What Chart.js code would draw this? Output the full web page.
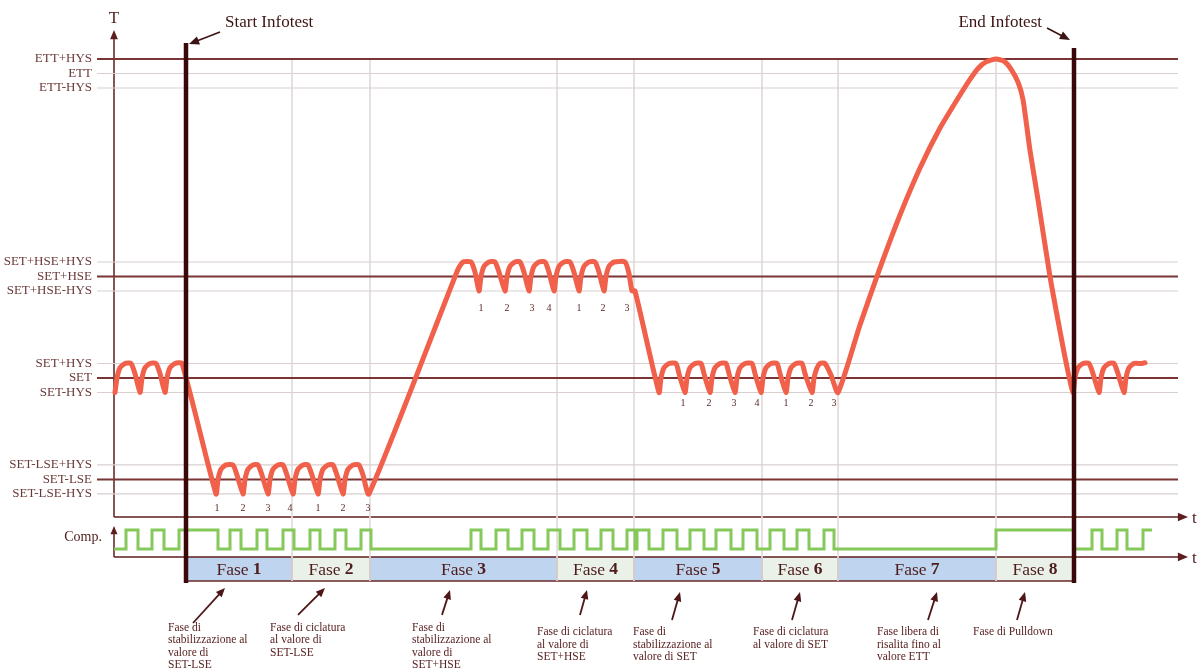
<!DOCTYPE html>
<html>
<head>
<meta charset="utf-8">
<script src="https://cdn.jsdelivr.net/npm/chart.js@4.4.0/dist/chart.umd.min.js"></script>
<style>
  html, body { margin: 0; padding: 0; background: #fff; }
  #wrap { width: 1201px; height: 671px; }
</style>
</head>
<body>
<div id="wrap"><canvas id="infotest-chart"></canvas></div>
<script>
// Temperature levels (T units, 1 unit = HYS)
const levelLabels = ['ETT+HYS', 'ETT', 'ETT-HYS', 'SET+HSE+HYS', 'SET+HSE', 'SET+HSE-HYS',
                     'SET+HYS', 'SET', 'SET-HYS', 'SET-LSE+HYS', 'SET-LSE', 'SET-LSE-HYS'];
const levelValues = [22, 21, 20, 8, 7, 6, 1, 0, -1, -6, -7, -8];
const mainLevels = ['ETT+HYS', 'SET+HSE', 'SET', 'SET-LSE'];

// Phases (time)
const phaseBounds = [71, 177, 255, 442, 519, 647, 723, 881, 959];
const phaseNumbers = ['1', '2', '3', '4', '5', '6', '7', '8'];
const phaseNotes = [
  ['Fase di', 'stabilizzazione al', 'valore di', 'SET-LSE'],
  ['Fase di ciclatura', 'al valore di', 'SET-LSE'],
  ['Fase di', 'stabilizzazione al', 'valore di', 'SET+HSE'],
  ['Fase di ciclatura', 'al valore di', 'SET+HSE'],
  ['Fase di', 'stabilizzazione al', 'valore di SET'],
  ['Fase di ciclatura', 'al valore di SET'],
  ['Fase libera di', 'risalita fino al', 'valore ETT'],
  ['Fase di Pulldown']
];

// cycle counters under the minima
const countLabels = ['1', '2', '3', '4', '1', '2', '3'];
const countTimesLow = [102, 128, 153, 175, 203, 228, 253];
const countTimesHigh = [366, 392, 417, 434, 464, 488, 512];
const countTimesSet = [568, 594, 619, 642, 671, 696, 719];

// temperature curve [time, T]
const tempCurve = [
  [0,-1],[2,0],[5,0.7],[10,1],[16,1],[20,0.3],[25,-1],
  [27,0],[30,0.7],[35,1],[41,1],[45,0.3],[50,-1],
  [52,0],[55,0.7],[60,1],[67,1],
  [101,-8],
  [103,-7],[106,-6.3],[111,-6],[118,-6],[122,-6.7],[128,-8],
  [130,-7],[133,-6.3],[138,-6],[143,-6],[147,-6.7],[153,-8],
  [155,-7],[158,-6.3],[163,-6],[168,-6],[172,-6.7],[178,-8],
  [180,-7],[183,-6.3],[188,-6],[193,-6],[197,-6.7],[203,-8],
  [205,-7],[208,-6.3],[213,-6],[218,-6],[222,-6.7],[228,-8],
  [230,-7],[233,-6.3],[238,-6],[244,-6],[248,-6.7],[254,-8],
  [343,7.5],[348,8],[356,8],[360,7.3],[364,6],
  [366,7],[369,7.7],[374,8],[380,8],[384,7.3],[390,6],
  [392,7],[395,7.7],[400,8],[405,8],[409,7.3],[414,6],
  [416,7],[419,7.7],[424,8],[430,8],[434,7.3],[439,6],
  [441,7],[444,7.7],[449,8],[455,8],[459,7.3],[464,6],
  [466,7],[469,7.7],[474,8],[480,8],[484,7.3],[489,6],
  [491,7],[494,7.7],[499,8],[510,8],[514,7.2],[517,6],[520,6],
  [544,-1],
  [546,0],[549,0.7],[554,1],[561,1],[564,0.3],[570,-1],
  [572,0],[575,0.7],[580,1],[586,1],[589,0.3],[595,-1],
  [597,0],[600,0.7],[605,1],[611,1],[614,0.3],[620,-1],
  [622,0],[625,0.7],[630,1],[637,1],[640,0.3],[646,-1],
  [648,0],[651,0.7],[656,1],[662,1],[665,0.3],[671,-1],
  [673,0],[676,0.7],[681,1],[687,1],[690,0.3],[697,-1],
  [699,0],[702,0.7],[705,1],[710,1],[716,0.2],[723,-1],
  [745,3.66],[765,7.59],[785,11.24],[805,14.48],[825,17.24],[845,19.52],[855,20.6],
  [863,21.35],[871,21.8],[881,22],[889,21.85],[896,21.3],[903,20.4],[908,19.2],
  [915,15.7],[923,12.3],[935,7],[944,3.6],[951,1.1],[958,-1],
  [960,0],[963,0.7],[968,1],[974,1],[978,0.3],[984,-1],
  [986,0],[989,0.7],[994,1],[999,1],[1003,0.3],[1009,-1],
  [1011,0],[1014,0.7],[1019,1],[1027,1],[1030,1.05]
];

// compressor on/off edges (time)
const compStart = -1;
const compEnd = 1037;
const compRise = [11, 37, 64, 115, 142, 168, 195, 220, 246, 356, 381, 407, 433, 459, 486, 512, 522,
                  548, 575, 601, 628, 655, 682, 709, 881, 977, 1002, 1028];
const compFall = [23, 49, 103, 126, 152, 179, 205, 231, 256, 366, 393, 419, 445, 472, 498, 520, 534,
                  562, 589, 616, 642, 669, 694, 719, 959, 987, 1012];

// layout (scale units)
const LINE_FROM = -18, LINE_TO = 1063, LABEL_AT = -23;
const AXIS_AT = -1, AXIS_END = 1073;
const T_AXIS_BOTTOM = -9.59, T_AXIS_TOP = 24.0;
const T2_AXIS = -12.34, COMP_AXIS_TOP = -10.21;
const BOX_TOP = -12.34, BOX_BOTTOM = -14.0;
const GRID_TOP = 22, GRID_BOTTOM = -14.0;
const START_T = 71, END_T = 959;
const noteX = [53, 155, 297, 422, 518, 638, 762, 858];
const noteY = [-17.24, -17.24, -17.24, -17.52, -17.52, -17.52, -17.52, -17.52];
const noteArrows = [
  [78, -16.9, 110, -14.48], [183, -16.34, 210, -14.48], [327, -16.34, 335, -14.62],
  [465, -16.34, 472, -14.62], [557, -16.69, 565, -14.76], [677, -16.69, 685, -14.76],
  [813, -16.69, 822, -14.76], [902, -16.69, 910, -14.76]
];

const SERIF = '"Liberation Serif", "DejaVu Serif", serif';
const INK = '#4e1c1c';

function arrow(ctx, x1, y1, x2, y2, size) {
  const a = Math.atan2(y2 - y1, x2 - x1);
  ctx.beginPath();
  ctx.moveTo(x1, y1);
  ctx.lineTo(x2 - Math.cos(a) * size * 0.7, y2 - Math.sin(a) * size * 0.7);
  ctx.stroke();
  ctx.beginPath();
  ctx.moveTo(x2, y2);
  ctx.lineTo(x2 - size * Math.cos(a - 0.4), y2 - size * Math.sin(a - 0.4));
  ctx.lineTo(x2 - size * Math.cos(a + 0.4), y2 - size * Math.sin(a + 0.4));
  ctx.closePath();
  ctx.fill();
}

const decorations = {
  id: 'decorations',
  beforeDatasetsDraw(chart) {
    const ctx = chart.ctx;
    const X = v => chart.scales.x.getPixelForValue(v);
    const Y = v => chart.scales.y.getPixelForValue(v);
    ctx.save();
    // phase boxes
    for (let i = 0; i < phaseNumbers.length; i++) {
      const x1 = X(phaseBounds[i]), x2 = X(phaseBounds[i + 1]);
      ctx.fillStyle = i % 2 === 0 ? '#bfd4ef' : '#e9f1e8';
      ctx.fillRect(x1, Y(BOX_TOP), x2 - x1, Y(BOX_BOTTOM) - Y(BOX_TOP));
    }
    ctx.strokeStyle = '#6a2a2a';
    ctx.lineWidth = 1.5;
    ctx.beginPath();
    ctx.moveTo(X(phaseBounds[0]), Y(BOX_BOTTOM));
    ctx.lineTo(X(phaseBounds[phaseBounds.length - 1]), Y(BOX_BOTTOM));
    phaseBounds.forEach(b => {
      ctx.moveTo(X(b), Y(BOX_TOP));
      ctx.lineTo(X(b), Y(BOX_BOTTOM));
    });
    ctx.stroke();

    // axes
    ctx.strokeStyle = '#5e1e1e';
    ctx.fillStyle = '#5e1e1e';
    ctx.lineWidth = 1.5;
    arrow(ctx, X(AXIS_AT), Y(T_AXIS_BOTTOM), X(AXIS_AT), Y(T_AXIS_TOP), 10);
    arrow(ctx, X(AXIS_AT), Y(T_AXIS_BOTTOM), X(AXIS_END), Y(T_AXIS_BOTTOM), 11);
    arrow(ctx, X(AXIS_AT), Y(T2_AXIS), X(AXIS_AT), Y(COMP_AXIS_TOP), 9);
    arrow(ctx, X(AXIS_AT), Y(T2_AXIS), X(AXIS_END), Y(T2_AXIS), 11);
    ctx.restore();
  },
  afterDatasetsDraw(chart) {
    const ctx = chart.ctx;
    const X = v => chart.scales.x.getPixelForValue(v);
    const Y = v => chart.scales.y.getPixelForValue(v);
    ctx.save();
    ctx.textBaseline = 'middle';

    // level labels
    ctx.fillStyle = '#6b3838';
    ctx.font = '13px ' + SERIF;
    ctx.textAlign = 'right';
    levelLabels.forEach((l, i) => ctx.fillText(l, X(LABEL_AT), Y(levelValues[i])));
    ctx.font = '14px ' + SERIF;
    ctx.fillStyle = INK;
    ctx.fillText('Comp.', X(-13), Y(-10.97));

    // axis letters
    ctx.textAlign = 'center';
    ctx.font = '17px ' + SERIF;
    ctx.fillText('T', X(AXIS_AT), Y(24.8));
    ctx.textAlign = 'left';
    ctx.fillText('t', X(1077), Y(T_AXIS_BOTTOM - 0.1));
    ctx.fillText('t', X(1077), Y(T2_AXIS - 0.1));

    // Start / End Infotest
    ctx.font = '17px ' + SERIF;
    ctx.fillStyle = '#3d1414';
    ctx.fillText('Start Infotest', X(110), Y(24.55));
    ctx.textAlign = 'right';
    ctx.fillText('End Infotest', X(927), Y(24.5));
    ctx.strokeStyle = '#3d1414';
    ctx.fillStyle = '#3d1414';
    ctx.lineWidth = 1.6;
    arrow(ctx, X(105), Y(23.86), X(74), Y(23.03), 11);
    arrow(ctx, X(932), Y(24.14), X(955), Y(23.31), 11);

    // cycle counters
    ctx.font = '10px ' + SERIF;
    ctx.fillStyle = '#5a2a2a';
    ctx.textAlign = 'center';
    countLabels.forEach((c, i) => {
      ctx.fillText(c, X(countTimesLow[i]), Y(-8.97));
      ctx.fillText(c, X(countTimesHigh[i]), Y(4.83));
      ctx.fillText(c, X(countTimesSet[i]), Y(-1.72));
    });

    // phase box labels
    const boxFont = '17.5px ' + SERIF;
    for (let i = 0; i < phaseNumbers.length; i++) {
      const cx = (X(phaseBounds[i]) + X(phaseBounds[i + 1])) / 2;
      const cy = (Y(BOX_TOP) + Y(BOX_BOTTOM)) / 2 + 1;
      ctx.font = boxFont;
      const w1 = ctx.measureText('Fase ').width;
      ctx.font = 'bold ' + boxFont;
      const w2 = ctx.measureText(phaseNumbers[i]).width;
      const x0 = cx - (w1 + w2) / 2;
      ctx.fillStyle = INK;
      ctx.textAlign = 'left';
      ctx.font = boxFont;
      ctx.fillText('Fase ', x0, cy);
      ctx.font = 'bold ' + boxFont;
      ctx.fillText(phaseNumbers[i], x0 + w1, cy);
    }

    // notes under the phases
    ctx.font = '11.5px ' + SERIF;
    ctx.textAlign = 'left';
    ctx.strokeStyle = '#4e1616';
    ctx.lineWidth = 1.8;
    phaseNotes.forEach((lines, i) => {
      ctx.fillStyle = '#5a2222';
      lines.forEach((l, j) => ctx.fillText(l, X(noteX[i]), Y(noteY[i] - j * 0.862)));
      const a = noteArrows[i];
      ctx.fillStyle = '#4e1616';
      arrow(ctx, X(a[0]), Y(a[1]), X(a[2]), Y(a[3]), 10);
    });
    ctx.restore();
  }
};

const compPoints = [{x: compStart, y: 0}];
compRise.forEach((r, i) => {
  compPoints.push({x: r, y: 1});
  if (compFall[i] !== undefined) compPoints.push({x: compFall[i], y: 0});
});
compPoints.push({x: compEnd, y: 1});

const datasets = [];
levelValues.forEach((v, i) => {
  const main = mainLevels.includes(levelLabels[i]);
  datasets.push({
    data: [{x: LINE_FROM, y: v}, {x: LINE_TO, y: v}],
    borderColor: main ? '#7a3434' : '#d9cfcf',
    borderWidth: main ? 2 : 1.2,
    order: main ? 8 : 9
  });
});
phaseBounds.slice(1, -1).forEach(b => {
  datasets.push({
    data: [{x: b, y: GRID_TOP}, {x: b, y: GRID_BOTTOM}],
    borderColor: '#e3dcdc',
    borderWidth: 1,
    order: 10
  });
});
datasets.push({
  label: 'Comp.',
  yAxisID: 'yc',
  data: compPoints,
  stepped: true,
  borderColor: '#85c95b',
  borderWidth: 3,
  order: 5
});
datasets.push({
  label: 'T',
  data: tempCurve.map(p => ({x: p[0], y: p[1]})),
  borderColor: '#f0604a',
  borderWidth: 5,
  tension: 0.2,
  borderJoinStyle: 'round',
  borderCapStyle: 'round',
  order: 4
});
datasets.push({
  data: [{x: START_T, y: 23.1}, {x: START_T, y: -14.14}],
  borderColor: '#3a0808',
  borderWidth: 4.5,
  order: 1
});
datasets.push({
  data: [{x: END_T, y: 22.76}, {x: END_T, y: -14.14}],
  borderColor: '#3a0808',
  borderWidth: 4.5,
  order: 1
});

new Chart(document.querySelector('#infotest-chart'), {
  type: 'line',
  data: { datasets: datasets },
  options: {
    responsive: true,
    maintainAspectRatio: false,
    animation: false,
    layout: { padding: 0 },
    elements: { point: { radius: 0, hoverRadius: 0 } },
    plugins: {
      legend: { display: false },
      tooltip: { enabled: false }
    },
    events: [],
    scales: {
      x: { type: 'linear', display: false, min: -115, max: 1086 },
      y: { type: 'linear', display: false, min: -20.21, max: 26.07 },
      yc: { type: 'linear', axis: 'y', display: false, min: -6.42, max: 28.89 }
    }
  },
  plugins: [decorations]
});
</script>
</body>
</html>
